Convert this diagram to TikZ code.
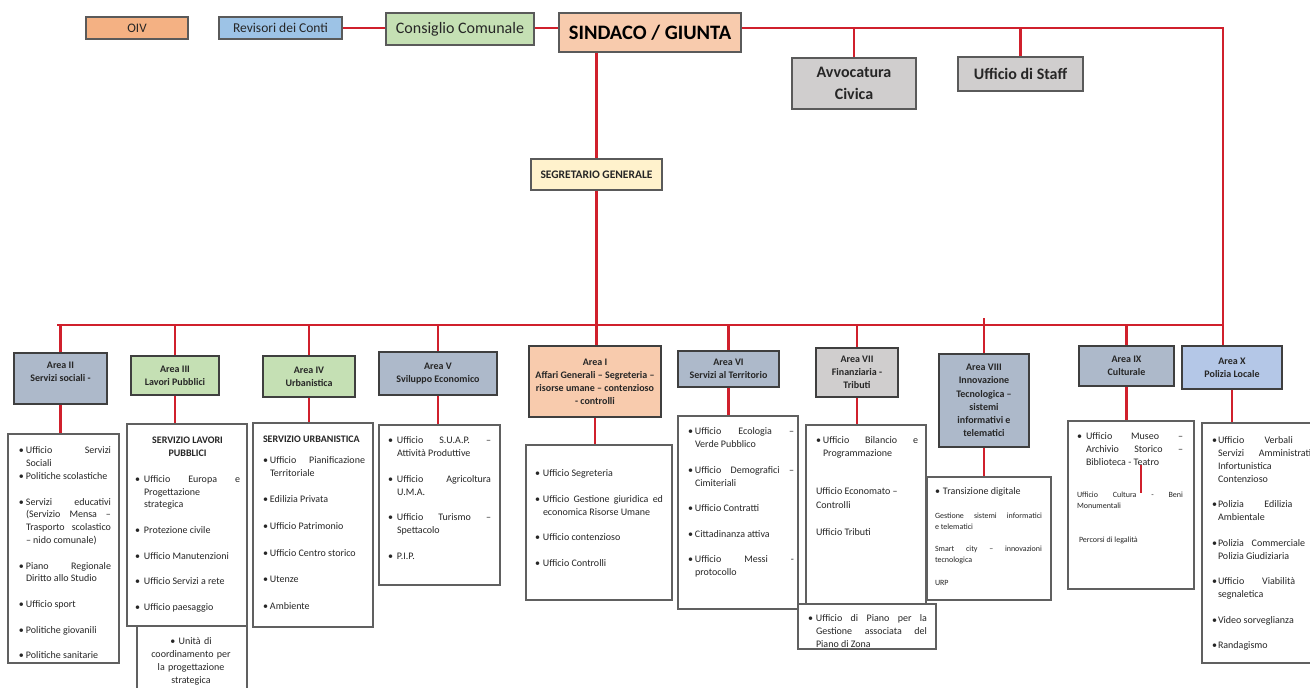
\documentclass[tikz,border=0pt]{standalone}
\usepackage{fontspec}
\setmainfont{Carlito}
\usetikzlibrary{calc}
\definecolor{redl}{HTML}{D0202C}
\definecolor{txt}{HTML}{262626}
\definecolor{bordc}{HTML}{5A5A5A}
\definecolor{areab}{HTML}{3F3F3F}
\definecolor{contb}{HTML}{606060}
\definecolor{oivc}{HTML}{F4B183}
\definecolor{revc}{HTML}{9DC3E6}
\definecolor{grnc}{HTML}{C5E0B4}
\definecolor{peachc}{HTML}{F8CBAD}
\definecolor{grayc}{HTML}{D0CECE}
\definecolor{yelc}{HTML}{FFF2CC}
\definecolor{slatec}{HTML}{ADB9CA}
\definecolor{lbluec}{HTML}{B4C7E7}
\newcommand\mkbox[6]{\node[#6, minimum width={(#4)-(#2)}, minimum height={(#5)-(#3)}] (#1) at ({((#2)+(#4))/2},{((#3)+(#5))/2})}
\newcommand\bitem[2][7pt]{\par\noindent\hangindent=#1\hangafter=1\hbox to #1{\strut\textbullet\hfil}#2\par}
\newcommand\plainln[1]{\par\noindent #1\par}
\newcommand\ttl[1]{\par{\centering\bfseries\strut #1\par}}
\newcommand\vgap[1][12.8pt]{\vspace{#1}}
\newcommand\ctfont{\fontsize{10}{12.8}\selectfont\tolerance=10000 \hyphenpenalty=10000 \pretolerance=-1 \parindent=0pt }
\newcommand\smallf{\fontsize{8}{10.7}\selectfont}
\tikzset{
  topbox/.style={draw=bordc, line width=1.2pt, inner sep=0pt, text=txt, align=center},
  areabox/.style={draw=areab, line width=1.4pt, inner sep=0pt, text=txt, align=center, font=\fontsize{10}{13}\selectfont\bfseries},
  contbox/.style={draw=contb, line width=1.1pt, inner sep=0pt},
  ctext/.style={anchor=north west, inner sep=0pt, outer sep=0pt, text=txt, align=justify, font=\ctfont},
  link/.style={draw=redl, line width=2.6pt},
}
\begin{document}
\begin{tikzpicture}[x=1pt,y=-1pt]
\useasboundingbox (0,0) rectangle (1310,688);
\clip (0,0) rectangle (1310,688);
\fill[white] (0,0) rectangle (1310,688);
% ---------- top level
\mkbox{oiv}{86}{17}{188}{39}{topbox,fill=oivc,font=\fontsize{13}{15}\selectfont}{OIV};
\mkbox{rev}{219}{17}{342}{39}{topbox,fill=revc,font=\fontsize{13.5}{15}\selectfont}{Revisori dei Conti};
\mkbox{cons}{386}{13}{534}{45}{topbox,fill=grnc,font=\fontsize{16}{18}\selectfont}{Consiglio Comunale};
\mkbox{sind}{559}{13}{741}{52}{topbox,fill=peachc,font=\fontsize{20.5}{23}\selectfont\bfseries,text=black}{SINDACO / GIUNTA};
\mkbox{avv}{792}{58}{916}{109}{topbox,fill=grayc,font=\fontsize{16}{21.5}\selectfont\bfseries}{Avvocatura\\Civica};
\mkbox{staff}{958}{57}{1083}{91}{topbox,fill=grayc,font=\fontsize{16}{19}\selectfont\bfseries}{Ufficio di Staff};
\mkbox{seg}{531}{159}{662}{190}{topbox,fill=yelc,font=\fontsize{11.5}{13}\selectfont\bfseries}{SEGRETARIO GENERALE};
% ---------- areas
\mkbox{a2}{14}{353}{107}{404}{areabox,fill=slatec}{Area II\\Servizi sociali -\\\mbox{}};
\mkbox{a3}{131}{356}{219}{395}{areabox,fill=grnc}{Area III\\Lavori Pubblici};
\mkbox{a4}{263}{356}{355}{397}{areabox,fill=grnc}{Area IV\\Urbanistica};
\mkbox{a5}{379}{352}{497}{395}{areabox,fill=slatec}{Area V\\Sviluppo Economico};
\mkbox{a1}{529}{346}{661}{417}{areabox,fill=peachc}{Area I\\Affari Generali – Segreteria –\\risorse umane – contenzioso\\- controlli};
\mkbox{a6}{678}{351}{779}{387}{areabox,fill=slatec}{Area VI\\Servizi al Territorio};
\mkbox{a7}{816}{348}{898}{397}{areabox,fill=grayc}{Area VII\\Finanziaria -\\Tributi};
\mkbox{a8}{939}{354}{1029}{447}{areabox,fill=slatec,font=\fontsize{10}{13.3}\selectfont\bfseries}{Area VIII\\Innovazione\\Tecnologica –\\sistemi\\informativi e\\telematici};
\mkbox{a9}{1079}{346}{1174}{386}{areabox,fill=slatec}{Area IX\\Culturale};
\mkbox{ax}{1182}{346}{1282}{389}{areabox,fill=lbluec}{Area X\\Polizia Locale};
% ---------- content boxes
\mkbox{c2}{8}{434}{119}{663}{contbox}{};
\mkbox{c3}{127}{424}{247}{626}{contbox}{};
\mkbox{c3b}{137}{626}{247}{690}{contbox}{};
\mkbox{c4}{253}{423}{373}{627}{contbox}{};
\mkbox{c5}{379}{425}{500}{585}{contbox}{};
\mkbox{c1}{526}{445}{672}{600}{contbox}{};
\mkbox{c6}{678}{416}{798}{609}{contbox}{};
\mkbox{c7}{806}{425}{926}{604}{contbox}{};
\mkbox{c7b}{798}{604}{936}{649}{contbox}{};
\mkbox{c8}{927}{477}{1051}{600}{contbox}{};
\mkbox{c9}{1068}{421}{1194}{589}{contbox}{};
\mkbox{cx}{1202}{423}{1325}{663}{contbox}{};
% ---------- texts
\node[ctext, text width=92pt] (t2) at (19,441) {\bitem{Ufficio Servizi\linebreak Sociali}\bitem{Politiche scolastiche}\vgap\bitem{Servizi educativi\linebreak (Servizio Mensa –\linebreak Trasporto scolastico\linebreak – nido comunale)}\vgap\bitem{Piano Regionale\linebreak Diritto allo Studio}\vgap\bitem{Ufficio sport}\vgap\bitem{Politiche giovanili}\vgap\bitem{Politiche sanitarie}};
\node[ctext, text width=105pt] (t3) at (135,431) {\ttl{SERVIZIO LAVORI}\ttl{PUBBLICI}\vgap\bitem[9pt]{Ufficio Europa e\linebreak Progettazione\linebreak strategica}\vgap\bitem[9pt]{Protezione civile}\vgap\bitem[9pt]{Ufficio Manutenzioni}\vgap\bitem[9pt]{Ufficio Servizi a rete}\vgap\bitem[9pt]{Ufficio paesaggio}};
\node[ctext, anchor=north, align=center, text width=100pt] (t3b) at (191,632) {\plainln{\strut\textbullet\ Unità di}\plainln{coordinamento per}\plainln{la progettazione}\plainln{strategica}};
\node[ctext, text width=102pt] (t4) at (263,430) {\plainln{\strut{\bfseries SERVIZIO URBANISTICA}}\vgap[8.2pt]\bitem{Ufficio Pianificazione\linebreak Territoriale}\vgap[13.5pt]\bitem{Edilizia Privata}\vgap[13.8pt]\bitem{Ufficio Patrimonio}\vgap[13.8pt]\bitem{Ufficio Centro storico}\vgap[13.8pt]\bitem{Utenze}\vgap[13.8pt]\bitem{Ambiente}};
\node[ctext, text width=103pt] (t5) at (388,431) {\bitem[9pt]{Ufficio S.U.A.P. –\linebreak Attività Produttive}\vgap\bitem[9pt]{Ufficio Agricoltura\linebreak U.M.A.}\vgap\bitem[9pt]{Ufficio Turismo –\linebreak Spettacolo}\vgap\bitem[9pt]{P.I.P.}};
\node[ctext, text width=128pt] (t1) at (535,464) {\bitem[8pt]{Ufficio Segreteria}\vgap\bitem[8pt]{Ufficio Gestione giuridica ed\linebreak economica Risorse Umane}\vgap\bitem[8pt]{Ufficio contenzioso}\vgap\bitem[8pt]{Ufficio Controlli}};
\node[ctext, text width=106pt] (t6) at (688,422) {\bitem{Ufficio Ecologia –\linebreak Verde Pubblico}\vgap\bitem{Ufficio Demografici –\linebreak Cimiteriali}\vgap\bitem{Ufficio Contratti}\vgap\bitem{Cittadinanza attiva}\vgap\bitem{Ufficio Messi -\linebreak protocollo}};
\node[ctext, text width=102pt] (t7) at (816,431) {\bitem{Ufficio Bilancio e\linebreak Programmazione}\vgap[24.2pt]{\fontsize{10}{14}\selectfont\plainln{Ufficio Economato –\newline Controlli}\vgap[13pt]\plainln{Ufficio Tributi}}};
\node[ctext, text width=119pt] (t7b) at (808,609) {\bitem[8pt]{Ufficio di Piano per la\linebreak Gestione associata del\linebreak Piano di Zona}};
\node[ctext, text width=107pt] (t8) at (935,482) {\bitem[8pt]{Transizione digitale}\vgap[13.3pt]{\smallf\plainln{Gestione sistemi informatici\linebreak e telematici}\vgap[11.6pt]\plainln{Smart city – innovazioni\linebreak tecnologica}\vgap[12.6pt]\plainln{URP}}};
\node[ctext, text width=106pt] (t9) at (1077,427) {\bitem[9pt]{Ufficio Museo –\linebreak Archivio Storico –\linebreak Biblioteca - Teatro}\vgap[21.4pt]{\fontsize{8}{11}\selectfont\plainln{Ufficio Cultura - Beni\linebreak Monumentali}\vgap[23pt]\plainln{\hspace*{2pt}Percorsi di legalità}}};
\node[ctext, text width=106pt] (tx) at (1212,431) {\bitem[6pt]{Ufficio Verbali e\linebreak Servizi Amministrativi\linebreak Infortunistica e\linebreak Contenzioso}\vgap\bitem[6pt]{Polizia Edilizia e\linebreak Ambientale}\vgap\bitem[6pt]{Polizia Commerciale e\linebreak Polizia Giudiziaria}\vgap\bitem[6pt]{Ufficio Viabilità e\linebreak segnaletica}\vgap\bitem[6pt]{Video sorveglianza}\vgap\bitem[6pt]{Randagismo}};
% ---------- connectors
\coordinate (tr) at (1223,28);
\coordinate (busL) at (57,325);
\coordinate (busR) at (1223,325);
\draw[link] (rev.east) -- (cons.west |- rev.east);
\draw[link] (cons.east |- tr) -- (sind.west |- tr);
\draw[link] (sind.east |- tr) -- (tr) -- (tr |- ax.north);
\draw[link] (avv.north |- tr) -- (avv.north);
\draw[link] (staff.north |- tr) -- (staff.north);
\draw[link] (seg.north |- sind.south) -- (seg.north);
\draw[link] (seg.south) -- (seg.south |- a1.north);
\draw[link] (busL) -- (busR);
\foreach \a in {a2,a3,a4,a5,a6,a7,a9}{\draw[link] (\a.north |- busL) -- (\a.north);}
\path (a8.north |- busL) ++(0,-7) coordinate (a8top);
\draw[link] (a8top) -- (a8.north);
\foreach \a/\c in {a2/c2,a3/c3,a4/c4,a5/c5,a1/c1,a6/c6,a7/c7,a8/c8,a9/c9,ax/cx}{\draw[link] (\a.south) -- (\a.south |- \c.north);}
\coordinate (r9a) at (1141,465);
\coordinate (r9b) at (1141,493);
\draw[draw=redl, line width=2pt] (r9a) -- (r9b);
\end{tikzpicture}
\end{document}
